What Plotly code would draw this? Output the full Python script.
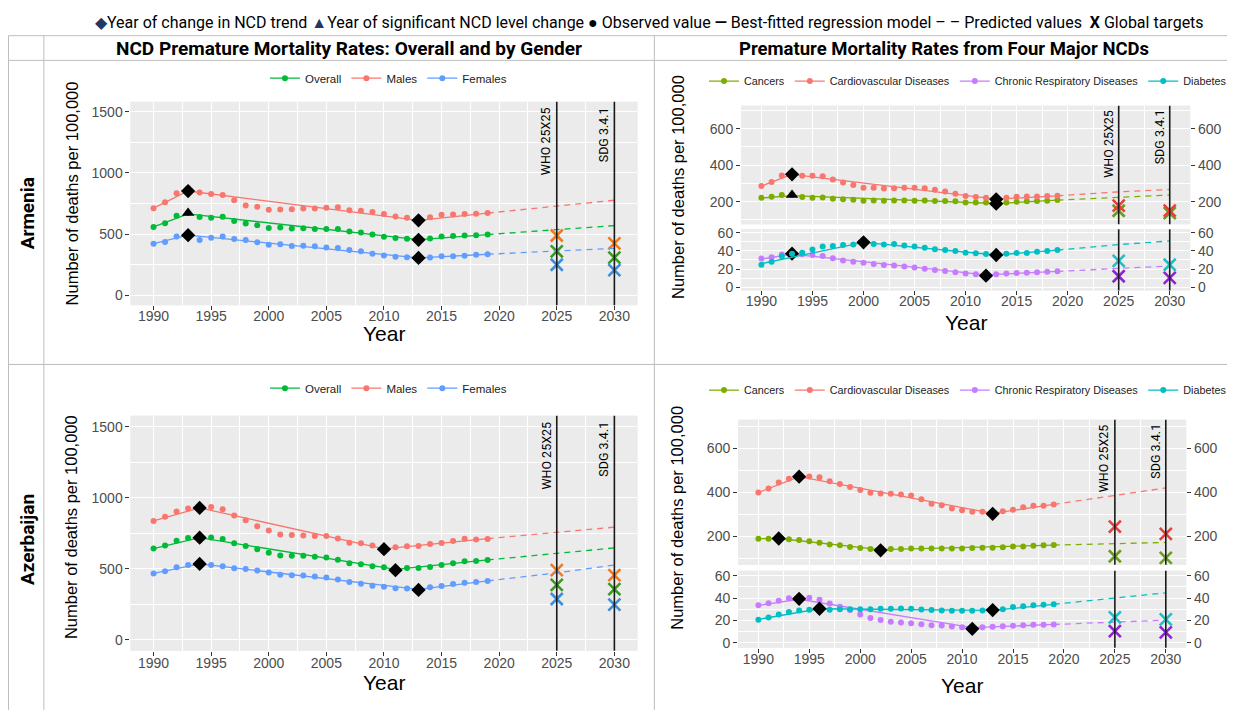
import plotly.graph_objects as go

# page is 1240x723; the browser body keeps an 8px margin, so the canvas is 1224x707 placed at (8, 8)
OFF = 8
W, H = 1224, 707
years = list(range(1990, 2020))
pred_years = [2019, 2025, 2030]
target_years = [2025, 2030]

# ---------------- Armenia: overall and by gender ----------------
arm_males = [712, 761, 833, 874, 841, 828, 820, 777, 734, 723, 699, 702, 704, 710, 710, 715, 720, 696, 691, 680,
             664, 645, 634, 613, 637, 659, 661, 664, 667, 672]
arm_overall = [559, 589, 651, 672, 640, 634, 642, 608, 586, 573, 551, 554, 546, 548, 543, 543, 543, 522, 513, 497,
               478, 468, 462, 454, 465, 481, 484, 489, 492, 497]
arm_females = [422, 435, 481, 492, 452, 470, 481, 460, 452, 433, 414, 417, 403, 406, 401, 392, 387, 371, 360, 341,
               325, 315, 312, 306, 309, 320, 320, 323, 331, 336]
arm_males_fit_x = [1990, 1993, 2013, 2019]
arm_males_fit = [712, 852, 613, 672]
arm_overall_fit_x = [1990, 1993, 2013, 2019]
arm_overall_fit = [559, 665, 456, 497]
arm_females_fit_x = [1990, 1993, 2013, 2019]
arm_females_fit = [422, 492, 306, 336]
arm_males_pred = [672, 731, 777]
arm_overall_pred = [497, 538, 570]
arm_females_pred = [336, 363, 384]
arm_males_target = [489, 425]
arm_overall_target = [360, 309]
arm_females_target = [250, 207]
arm_males_jp_x, arm_males_jp, arm_males_jp_sym = [1993, 2013], [852, 613], ["diamond", "diamond"]
arm_overall_jp_x, arm_overall_jp, arm_overall_jp_sym = [1993, 2013], [672, 454], ["triangle-up", "diamond"]
arm_females_jp_x, arm_females_jp, arm_females_jp_sym = [1993, 2013], [492, 306], ["diamond", "diamond"]

# ---------------- Armenia: four major NCDs ----------------
arm_cvd = [286, 308, 344, 350, 342, 342, 339, 321, 305, 292, 276, 277, 272, 274, 276, 276, 274, 265, 256, 243,
           231, 225, 222, 216, 222, 227, 229, 229, 231, 232]
arm_cancer = [222, 227, 236, 236, 225, 222, 223, 216, 213, 211, 205, 207, 205, 207, 207, 205, 207, 204, 204, 202,
              196, 196, 195, 189, 195, 200, 202, 204, 205, 209]
arm_crd = [31.6, 33, 36, 37, 36.4, 35.6, 34.5, 32, 29.5, 28, 27, 25.5, 24.4, 24, 22.9, 21.8, 20.4, 18.9, 17.8, 16.4,
           15, 14.2, 12.7, 14.2, 15, 15.6, 16, 16.4, 17, 17.5]
arm_diab = [24.7, 28, 34, 37, 38, 41.5, 45, 45.5, 46.5, 47, 49.8, 47.6, 47, 47.6, 46, 45, 43.6, 41.8, 41, 40,
            38, 37.5, 36.7, 35.6, 37, 37.8, 37.8, 39, 40, 41]
arm_cvd_fit_x, arm_cvd_fit = [1990, 1993, 2013, 2019], [286, 350, 214, 232]
arm_cancer_fit_x, arm_cancer_fit = [1990, 1993, 2013, 2019], [220, 233, 190, 208]
arm_crd_fit_x, arm_crd_fit = [1990, 1993, 2012, 2019], [31, 36.5, 13.5, 17.5]
arm_diab_fit_x, arm_diab_fit = [1990, 2000, 2013, 2019], [26, 49.5, 35.5, 41]
arm_cvd_pred = [232, 254, 267]
arm_cancer_pred = [208, 225, 236]
arm_crd_pred = [17.5, 21, 23.3]
arm_diab_pred = [41, 47, 51]
arm_cvd_target = [178, 151]
arm_cancer_target = [150, 137]
arm_crd_target = [12, 10.2]
arm_diab_target = [29, 24.7]
arm_cvd_jp_x, arm_cvd_jp, arm_cvd_jp_sym = [1993, 2013], [350, 213], ["diamond", "diamond"]
arm_cancer_jp_x, arm_cancer_jp, arm_cancer_jp_sym = [1993, 2013], [236, 189], ["triangle-up", "diamond"]
arm_crd_jp_x, arm_crd_jp, arm_crd_jp_sym = [1993, 2012], [37, 12.7], ["diamond", "diamond"]
arm_diab_jp_x, arm_diab_jp, arm_diab_jp_sym = [2000, 2013], [49.5, 35.5], ["diamond", "diamond"]

# ---------------- Azerbaijan: overall and by gender ----------------
az_males = [837, 867, 904, 924, 929, 936, 920, 876, 841, 800, 770, 742, 737, 735, 730, 730, 714, 684, 680, 663,
            638, 652, 659, 661, 675, 682, 696, 712, 707, 710]
az_overall = [642, 663, 698, 716, 719, 721, 709, 679, 661, 638, 612, 594, 592, 592, 585, 580, 564, 538, 532, 518,
              511, 490, 506, 506, 513, 527, 538, 552, 555, 562]
az_females = [467, 483, 511, 527, 534, 527, 518, 504, 499, 488, 474, 458, 455, 453, 446, 439, 425, 407, 395, 381,
              374, 363, 360, 351, 370, 379, 393, 402, 407, 414]
az_males_fit_x, az_males_fit = [1990, 1994, 2010, 2019], [837, 929, 640, 712]
az_overall_fit_x, az_overall_fit = [1990, 1994, 2011, 2019], [642, 719, 495, 562]
az_females_fit_x, az_females_fit = [1990, 1994, 2013, 2019], [467, 534, 355, 414]
az_males_pred = [712, 756, 793]
az_overall_pred = [562, 610, 647]
az_females_pred = [414, 471, 527]
az_males_target = [490, 455]
az_overall_target = [386, 356]
az_females_target = [287, 247]
az_males_jp_x, az_males_jp, az_males_jp_sym = [1994, 2010], [929, 638], ["diamond", "diamond"]
az_overall_jp_x, az_overall_jp, az_overall_jp_sym = [1994, 2011], [719, 490], ["diamond", "diamond"]
az_females_jp_x, az_females_jp, az_females_jp_sym = [1994, 2013], [534, 351], ["diamond", "diamond"]

# ---------------- Azerbaijan: four major NCDs ----------------
az_cvd = [400, 418, 446, 463, 472, 473, 469, 451, 439, 425, 412, 399, 396, 394, 391, 387, 369, 349, 342, 327,
          319, 313, 312, 303, 315, 322, 333, 340, 340, 346]
az_cancer = [190, 190, 191, 188, 184, 178, 172, 164, 160, 152, 148, 143, 137, 143, 143, 145, 145, 145, 146, 146,
             146, 148, 149, 149, 151, 154, 155, 158, 160, 161]
az_crd = [33.7, 35.5, 37.6, 40, 39.4, 40.3, 38.5, 35.2, 32.2, 29.3, 25.4, 22.1, 20.3, 18.8, 18.2, 17.6, 16.7, 15.8,
          15.5, 14.6, 14, 12.5, 14, 14.3, 14.9, 15.2, 15.8, 16.1, 16.1, 16.4]
az_diab = [20.6, 22.7, 25.4, 27.5, 29, 29.6, 30.1, 29.6, 30.1, 30.1, 30.1, 30.1, 30.4, 30.4, 30.7, 30.4, 29.9, 29.3,
           29, 28.7, 28.7, 28.7, 29, 29.3, 30.1, 32, 32.8, 33.7, 34, 34.6]
az_cvd_fit_x, az_cvd_fit = [1990, 1994, 2013, 2019], [400, 472, 305, 346]
az_cancer_fit_x, az_cancer_fit = [1990, 1992, 2002, 2019], [190, 191, 140, 161]
az_crd_fit_x, az_crd_fit = [1990, 1994, 2011, 2019], [33.5, 39, 13.5, 16.4]
az_diab_fit_x, az_diab_fit = [1990, 1996, 2013, 2019], [21, 30.5, 29, 34.5]
az_cvd_pred = [346, 387, 421]
az_cancer_pred = [161, 167, 173]
az_crd_pred = [16.4, 18.5, 20.3]
az_diab_pred = [34.5, 40.3, 44.8]
az_cvd_target = [245, 212]
az_cancer_target = [110, 103]
az_crd_target = [10.4, 9.3]
az_diab_target = [22.7, 20.9]
az_cvd_jp_x, az_cvd_jp, az_cvd_jp_sym = [1994, 2013], [472, 303], ["diamond", "diamond"]
az_cancer_jp_x, az_cancer_jp, az_cancer_jp_sym = [1992, 2002], [191, 137], ["diamond", "diamond"]
az_crd_jp_x, az_crd_jp, az_crd_jp_sym = [1994, 2011], [39.4, 12.5], ["diamond", "diamond"]
az_diab_jp_x, az_diab_jp, az_diab_jp_sym = [1996, 2013], [30.5, 29.3], ["diamond", "diamond"]

x_ticks = [1990, 1995, 2000, 2005, 2010, 2015, 2020, 2025, 2030]
target_labels = ["WHO 25X25", "SDG 3.4.1"]

# colours
C_OVERALL, C_MALES, C_FEMALES = "#00BA38", "#F8766D", "#619CFF"
X_OVERALL, X_MALES, X_FEMALES = "#3A9A22", "#EE7A24", "#3B8EE0"
C_CANCER, C_CVD, C_CRD, C_DIAB = "#7CAE00", "#F8766D", "#C77CFF", "#00BFC4"
X_CANCER, X_CVD, X_CRD, X_DIAB = "#6A9E1A", "#E5413A", "#8E22D6", "#1FBFC9"

NARROW = "Roboto, Liberation Sans Narrow, sans-serif"
SANS = "Liberation Sans, Arial, sans-serif"


def px(x):
    return (x - OFF) / W


def py(y):
    return 1 - (y - OFF) / H


fig = go.Figure()


def add_series(xa, ya, obs, fit_x, fit_y, pred_y, color, jp_x, jp_y, jp_sym, tgt, tcolor):
    fig.add_trace(go.Scatter(x=fit_x, y=fit_y, mode="lines", line=dict(color=color, width=1.3),
                             xaxis=xa, yaxis=ya, showlegend=False, hoverinfo="skip"))
    fig.add_trace(go.Scatter(x=pred_years, y=pred_y, mode="lines",
                             line=dict(color=color, width=1.3, dash="6px,5px"),
                             xaxis=xa, yaxis=ya, showlegend=False, hoverinfo="skip"))
    fig.add_trace(go.Scatter(x=years, y=obs, mode="markers", marker=dict(color=color, size=6),
                             xaxis=xa, yaxis=ya, showlegend=False))
    fig.add_trace(go.Scatter(x=jp_x, y=jp_y, mode="markers",
                             marker=dict(color="black", size=11, symbol=jp_sym),
                             xaxis=xa, yaxis=ya, showlegend=False))
    fig.add_trace(go.Scatter(x=target_years, y=tgt, mode="markers",
                             marker=dict(color=tcolor, size=12, symbol="x-thin",
                                         line=dict(color=tcolor, width=2.6)),
                             xaxis=xa, yaxis=ya, showlegend=False))


def add_legend_entry(name, color, legend):
    fig.add_trace(go.Scatter(x=[None], y=[None], mode="lines+markers", name=name,
                             line=dict(color=color, width=1.3), marker=dict(color=color, size=6),
                             legend=legend, showlegend=True))


# Armenia left (x, y)
add_series("x", "y", arm_overall, arm_overall_fit_x, arm_overall_fit, arm_overall_pred, C_OVERALL,
           arm_overall_jp_x, arm_overall_jp, arm_overall_jp_sym, arm_overall_target, X_OVERALL)
add_series("x", "y", arm_males, arm_males_fit_x, arm_males_fit, arm_males_pred, C_MALES,
           arm_males_jp_x, arm_males_jp, arm_males_jp_sym, arm_males_target, X_MALES)
add_series("x", "y", arm_females, arm_females_fit_x, arm_females_fit, arm_females_pred, C_FEMALES,
           arm_females_jp_x, arm_females_jp, arm_females_jp_sym, arm_females_target, X_FEMALES)
# Armenia right top (x2, y2), bottom (x3, y3)
add_series("x2", "y2", arm_cancer, arm_cancer_fit_x, arm_cancer_fit, arm_cancer_pred, C_CANCER,
           arm_cancer_jp_x, arm_cancer_jp, arm_cancer_jp_sym, arm_cancer_target, X_CANCER)
add_series("x2", "y2", arm_cvd, arm_cvd_fit_x, arm_cvd_fit, arm_cvd_pred, C_CVD,
           arm_cvd_jp_x, arm_cvd_jp, arm_cvd_jp_sym, arm_cvd_target, X_CVD)
add_series("x3", "y3", arm_crd, arm_crd_fit_x, arm_crd_fit, arm_crd_pred, C_CRD,
           arm_crd_jp_x, arm_crd_jp, arm_crd_jp_sym, arm_crd_target, X_CRD)
add_series("x3", "y3", arm_diab, arm_diab_fit_x, arm_diab_fit, arm_diab_pred, C_DIAB,
           arm_diab_jp_x, arm_diab_jp, arm_diab_jp_sym, arm_diab_target, X_DIAB)
# Azerbaijan left (x4, y4)
add_series("x4", "y4", az_overall, az_overall_fit_x, az_overall_fit, az_overall_pred, C_OVERALL,
           az_overall_jp_x, az_overall_jp, az_overall_jp_sym, az_overall_target, X_OVERALL)
add_series("x4", "y4", az_males, az_males_fit_x, az_males_fit, az_males_pred, C_MALES,
           az_males_jp_x, az_males_jp, az_males_jp_sym, az_males_target, X_MALES)
add_series("x4", "y4", az_females, az_females_fit_x, az_females_fit, az_females_pred, C_FEMALES,
           az_females_jp_x, az_females_jp, az_females_jp_sym, az_females_target, X_FEMALES)
# Azerbaijan right top (x5, y5), bottom (x6, y6)
add_series("x5", "y5", az_cancer, az_cancer_fit_x, az_cancer_fit, az_cancer_pred, C_CANCER,
           az_cancer_jp_x, az_cancer_jp, az_cancer_jp_sym, az_cancer_target, X_CANCER)
add_series("x5", "y5", az_cvd, az_cvd_fit_x, az_cvd_fit, az_cvd_pred, C_CVD,
           az_cvd_jp_x, az_cvd_jp, az_cvd_jp_sym, az_cvd_target, X_CVD)
add_series("x6", "y6", az_crd, az_crd_fit_x, az_crd_fit, az_crd_pred, C_CRD,
           az_crd_jp_x, az_crd_jp, az_crd_jp_sym, az_crd_target, X_CRD)
add_series("x6", "y6", az_diab, az_diab_fit_x, az_diab_fit, az_diab_pred, C_DIAB,
           az_diab_jp_x, az_diab_jp, az_diab_jp_sym, az_diab_target, X_DIAB)

# empty traces so the mirrored right-hand axes are drawn
for xa, ya in [("x2", "y7"), ("x3", "y8"), ("x5", "y9"), ("x6", "y10")]:
    fig.add_trace(go.Scatter(x=[], y=[], xaxis=xa, yaxis=ya, showlegend=False, hoverinfo="skip"))

# legend entries
for leg in ["legend", "legend3"]:
    add_legend_entry("Overall", C_OVERALL, leg)
    add_legend_entry("Males", C_MALES, leg)
    add_legend_entry("Females", C_FEMALES, leg)
for leg in ["legend2", "legend4"]:
    add_legend_entry("Cancers", C_CANCER, leg)
    add_legend_entry("Cardiovascular Diseases", C_CVD, leg)
    add_legend_entry("Chronic Respiratory Diseases", C_CRD, leg)
    add_legend_entry("Diabetes", C_DIAB, leg)

TICKFONT = dict(family=SANS, size=14, color="#4D4D4D")


def xaxis(x0, x1, anchor, labels=True, standoff=-5):
    return dict(domain=[px(x0), px(x1)], anchor=anchor, range=[1988, 2032], tickvals=x_ticks,
                showticklabels=labels, ticks="outside" if labels else "", ticklen=4, tickcolor="#333333",
                tickfont=TICKFONT, ticklabelstandoff=standoff,
                showgrid=True, gridcolor="white", gridwidth=1.3, zeroline=False,
                showline=False,
                minor=dict(tick0=1987.5, dtick=5, showgrid=True, gridcolor="white", gridwidth=0.6, ticks=""))


def yaxis(y0, y1, anchor, rng, tickvals, minor_dtick, minor_tick0):
    return dict(domain=[py(y1), py(y0)], anchor=anchor, range=rng, tickvals=tickvals,
                ticks="outside", ticklen=4, tickcolor="#333333", tickfont=TICKFONT,
                showgrid=True, gridcolor="white", gridwidth=1.3, zeroline=False, showline=False,
                minor=dict(tick0=minor_tick0, dtick=minor_dtick, showgrid=True, gridcolor="white",
                           gridwidth=0.6, ticks=""))


def ymirror(over, anchor, rng, tickvals):
    return dict(overlaying=over, anchor=anchor, side="right", range=rng, tickvals=tickvals,
                ticks="outside", ticklen=4, tickcolor="#333333", tickfont=TICKFONT,
                showgrid=False, zeroline=False, showline=False)


A2_TOP = [76, 726]
A2_BOT = [-3.6, 64]
B2_TOP = [71, 731]
B2_BOT = [-4.5, 64.5]
big_ticks = [0, 500, 1000, 1500]
ncd_ticks = [200, 400, 600]
small_ticks = [0, 20, 40, 60]

fig.update_layout(
    xaxis=xaxis(131, 640, "y", standoff=-6),
    yaxis=yaxis(99, 305, "x", [-80, 1580], big_ticks, 500, 250),
    xaxis2=xaxis(744, 1195, "y2", labels=False),
    yaxis2=yaxis(103, 223, "x2", A2_TOP, ncd_ticks, 200, 100),
    xaxis3=xaxis(744, 1195, "y3", standoff=-6),
    yaxis3=yaxis(228, 290, "x3", A2_BOT, small_ticks, 20, 10),
    xaxis4=xaxis(131, 640, "y4", standoff=-5),
    yaxis4=yaxis(417, 655, "x4", [-78, 1578], big_ticks, 500, 250),
    xaxis5=xaxis(741, 1191, "y5", labels=False),
    yaxis5=yaxis(421, 568, "x5", B2_TOP, ncd_ticks, 200, 100),
    xaxis6=xaxis(741, 1191, "y6", standoff=-6),
    yaxis6=yaxis(574, 652, "x6", B2_BOT, small_ticks, 20, 10),
    yaxis7=ymirror("y2", "x2", A2_TOP, ncd_ticks),
    yaxis8=ymirror("y3", "x3", A2_BOT, small_ticks),
    yaxis9=ymirror("y5", "x5", B2_TOP, ncd_ticks),
    yaxis10=ymirror("y6", "x6", B2_BOT, small_ticks),
)

for name, xc, yc, fs in [("legend", 390, 75, 11.5), ("legend2", 972, 78, 10.8),
                         ("legend3", 390, 389, 11.5), ("legend4", 972, 391, 10.8)]:
    fig.update_layout(**{name: dict(orientation="h", x=px(xc), y=py(yc), xanchor="center", yanchor="middle",
                                    font=dict(family=SANS, size=fs, color="#222222"),
                                    bgcolor="rgba(0,0,0,0)", itemclick=False,
                                    itemdoubleclick=False, tracegroupgap=0)})

shapes = []
annotations = []

# table grid
GRID = "#BDBDBD"
for yy in [32, 57, 365]:
    shapes.append(dict(type="line", xref="paper", yref="paper", x0=px(8.5), x1=1, y0=py(yy), y1=py(yy),
                       line=dict(color=GRID, width=1)))
for xx in [8.5, 44, 657]:
    shapes.append(dict(type="line", xref="paper", yref="paper", x0=px(xx), x1=px(xx), y0=py(32), y1=0,
                       line=dict(color=GRID, width=1)))

# panel backgrounds and target lines
panels = [("x", "y"), ("x2", "y2"), ("x3", "y3"), ("x4", "y4"), ("x5", "y5"), ("x6", "y6")]
for xa, ya in panels:
    shapes.append(dict(type="rect", xref=f"{xa} domain", yref=f"{ya} domain", x0=0, x1=1, y0=0, y1=1,
                       fillcolor="#EBEBEB", line=dict(width=0), layer="below"))
    for ty in target_years:
        shapes.append(dict(type="line", xref=xa, yref=f"{ya} domain", x0=ty, x1=ty, y0=0, y1=1,
                           line=dict(color="#1a1a1a", width=1.6)))

for xa, ya in [("x", "y"), ("x2", "y2"), ("x4", "y4"), ("x5", "y5")]:
    for ty, lab in zip(target_years, target_labels):
        annotations.append(dict(x=ty, y=0.985, xref=xa, yref=f"{ya} domain", text=lab, showarrow=False,
                                textangle=-90, xanchor="right", yanchor="top", xshift=-1,
                                font=dict(family=NARROW, size=12.5, color="black")))


def note(x, y, text, font, angle=0):
    annotations.append(dict(x=px(x), y=py(y), xref="paper", yref="paper", text=text, showarrow=False,
                            textangle=angle, xanchor="center", yanchor="middle", font=font))


# axis titles
YT = dict(family=SANS, size=16.5, color="black")
for xx, yy in [(72, 192), (72, 530), (680, 185), (680, 520)]:
    note(xx, yy, "Number of deaths per 100,000", YT, -90)
XT = dict(family=SANS, size=21, color="black")
for xx, yy in [(386, 334), (970, 322), (386, 687), (966, 690)]:
    note(xx, yy, "Year", XT)

# headers
note(350, 45, "<b>NCD Premature Mortality Rates: Overall and by Gender</b>",
     dict(family=NARROW, size=19, color="black"))
note(948, 45, "<b>Premature Mortality Rates from Four Major NCDs</b>",
     dict(family=NARROW, size=18.5, color="black"))
CF = dict(family=NARROW, size=19, color="black")
note(27, 212, "<b>Armenia</b>", CF, -90)
note(27, 542, "<b>Azerbaijan</b>", CF, -90)

# top key
NAVY = "#1F3864"
key_text = (f"<span style='color:{NAVY}'>◆</span>Year of change in NCD trend "
            f"<span style='color:{NAVY}'>▲</span>Year of significant NCD level change "
            "● Observed value <b>—</b> Best-fitted regression model – – Predicted values  "
            "<b>X</b> Global targets")
note(652, 19, key_text, dict(family=NARROW, size=16, color="black"))

fig.update_layout(width=W, height=H, margin=dict(l=0, r=0, t=0, b=0), paper_bgcolor="white",
                  plot_bgcolor="#EBEBEB", shapes=shapes, annotations=annotations)

fig.write_html("out.html")
